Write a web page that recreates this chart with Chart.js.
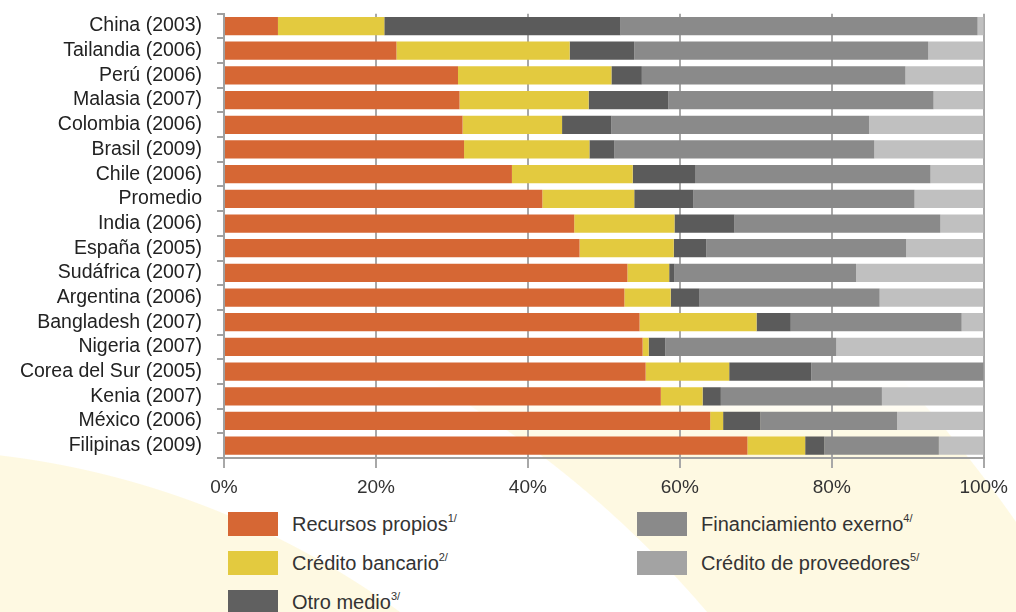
<!DOCTYPE html>
<html>
<head>
<meta charset="utf-8">
<script src="https://cdn.jsdelivr.net/npm/chart.js"></script>
<style>
  html, body { margin: 0; padding: 0; background: #fff; }
  #wrap { position: relative; width: 1016px; height: 612px; overflow: hidden; font-family: "Liberation Sans", Arial, sans-serif; }
  #deco {
    position: absolute; left: 0; top: 0; width: 1016px; height: 612px;
    background: radial-gradient(circle at -100px 1300px,
      #fef9e2 0, #fef9e2 850px, #fff 851px, #fff 1060px, #fef9e2 1061px, #fef9e2 1360px, #fff 1361px);
    -webkit-mask-image: linear-gradient(to bottom, transparent 0, transparent 380px, #000 440px);
    mask-image: linear-gradient(to bottom, transparent 0, transparent 380px, #000 440px);
  }
  #chartBox { position: absolute; left: 0; top: -13px; width: 1016px; height: 513px; }
  .leg { position: absolute; font-size: 20px; color: #333; height: 24px; line-height: 24px; white-space: nowrap; }
  .leg i { position: absolute; left: 0; top: 0; width: 50px; height: 24px; }
  .leg span { position: absolute; left: 64px; top: 0; }
  .leg sup { font-size: 11px; vertical-align: 0; position: relative; top: -9px; }
</style>
</head>
<body>
<div id="wrap">
  <div id="deco"></div>
  <div id="chartBox"><canvas id="finChart"></canvas></div>
  <div id="legend"></div>
</div>
<script>
// categorías (de arriba hacia abajo)
const categories = ['China (2003)', 'Tailandia (2006)', 'Perú (2006)', 'Malasia (2007)', 'Colombia (2006)',
  'Brasil (2009)', 'Chile (2006)', 'Promedio', 'India (2006)', 'España (2005)', 'Sudáfrica (2007)',
  'Argentina (2006)', 'Bangladesh (2007)', 'Nigeria (2007)', 'Corea del Sur (2005)', 'Kenia (2007)',
  'México (2006)', 'Filipinas (2009)'];

// porcentajes por fuente de financiamiento
const recursosPropios = [7.1, 22.7, 30.8, 31.0, 31.4, 31.6, 37.9, 41.9, 46.1, 46.8, 53.1, 52.7, 54.7, 55.1, 55.5, 57.5, 64.0, 68.9];
const creditoBancario = [14.0, 22.8, 20.2, 17.0, 13.1, 16.5, 15.9, 12.1, 13.2, 12.4, 5.5, 6.1, 15.4, 0.8, 11.0, 5.5, 1.7, 7.6];
const otroMedio = [31.1, 8.5, 4.0, 10.5, 6.5, 3.3, 8.2, 7.8, 7.9, 4.3, 0.7, 3.8, 4.5, 2.2, 10.8, 2.4, 4.9, 2.5];
const financiamientoExterno = [47.0, 38.7, 34.7, 34.9, 33.9, 34.2, 31.0, 29.1, 27.1, 26.3, 23.9, 23.7, 22.5, 22.5, 22.7, 21.2, 18.0, 15.1];
const creditoProveedores = [0.8, 7.3, 10.3, 6.6, 15.1, 14.4, 7.0, 9.1, 5.7, 10.2, 16.8, 13.7, 2.9, 19.4, 0, 13.4, 11.4, 5.9];

const xTicks = [0, 20, 40, 60, 80, 100];

const series = [
    { label: 'Recursos propios', note: '1/', data: recursosPropios, color: '#d66734', legColor: '#d66734' },
    { label: 'Crédito bancario', note: '2/', data: creditoBancario, color: '#e3ca3f', legColor: '#e3ca3f' },
    { label: 'Otro medio', note: '3/', data: otroMedio, color: '#5b5b5b', legColor: '#606060' },
    { label: 'Financiamiento exerno', note: '4/', data: financiamientoExterno, color: '#8a8a8a', legColor: '#8a8a8a' },
    { label: 'Crédito de proveedores', note: '5/', data: creditoProveedores, color: '#c0c0c0', legColor: '#a3a3a3' }
];

document.addEventListener('DOMContentLoaded', () => {
    initChart();
    buildLegend();
});

function initChart() {
    const ctx = document.getElementById('finChart');

    new Chart(ctx, {
        type: 'bar',
        data: {
            labels: categories,
            datasets: series.map(s => ({
                label: s.label,
                data: s.data,
                backgroundColor: s.color,
                borderWidth: 0,
                barPercentage: 0.74,
                categoryPercentage: 1
            }))
        },
        options: {
            indexAxis: 'y',
            responsive: true,
            maintainAspectRatio: false,
            animation: false,
            layout: { padding: { top: 0, right: 28, left: 0, bottom: 0 } },
            plugins: {
                legend: { display: false },
                tooltip: { enabled: false }
            },
            scales: {
                x: {
                    stacked: true,
                    min: 0,
                    max: 100,
                    afterBuildTicks: axis => { axis.ticks = xTicks.map(v => ({ value: v })); },
                    ticks: {
                        callback: v => v + '%',
                        color: '#333',
                        padding: 8,
                        maxRotation: 0,
                        font: { family: 'Liberation Sans', size: 19 }
                    },
                    grid: { color: '#a8a8a8', lineWidth: 2, tickLength: 10 },
                    border: { color: '#a0a0a0', width: 2 },
                    afterFit: axis => { axis.height = 42; }
                },
                y: {
                    stacked: true,
                    ticks: {
                        autoSkip: false,
                        color: '#222',
                        padding: 15,
                        font: { family: 'Liberation Sans', size: 19.5 }
                    },
                    grid: { offset: true, drawOnChartArea: false, color: '#a0a0a0', lineWidth: 2, tickLength: 7 },
                    border: { color: '#a0a0a0', width: 2 },
                    afterFit: axis => { axis.width = 224; }
                }
            }
        }
    });
}

// leyenda en dos columnas con notas en superíndice
function buildLegend() {
    const pos = [[228, 512], [228, 551], [228, 590], [637, 512], [637, 551]];
    const box = document.getElementById('legend');
    series.forEach((s, i) => {
        const el = document.createElement('div');
        el.className = 'leg';
        el.style.left = pos[i][0] + 'px';
        el.style.top = pos[i][1] + 'px';
        el.innerHTML = '<i style="background:' + s.legColor + '"></i><span>' + s.label + '<sup>' + s.note + '</sup></span>';
        box.appendChild(el);
    });
}
</script>
</body>
</html>
